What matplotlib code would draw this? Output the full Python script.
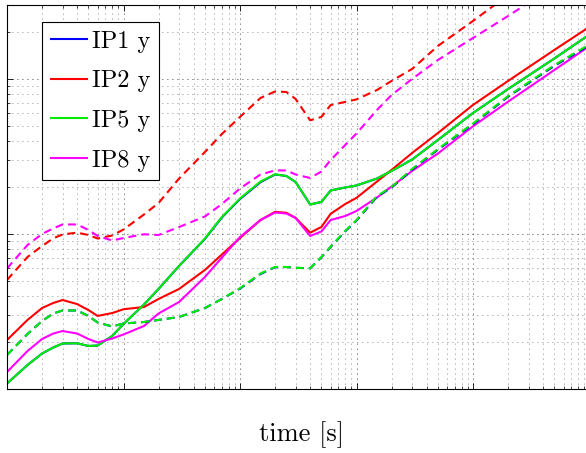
import matplotlib
matplotlib.use('Agg')
import matplotlib.pyplot as plt
from matplotlib.ticker import LogLocator, NullFormatter

# ---- data (log-log axes) ----
t = [1, 1.5, 2, 2.5, 3, 4, 5, 6, 8, 10,
     15, 20, 30, 50, 70, 100,
     150, 200, 250, 300, 400, 500, 600, 800, 1000,
     1500, 2000, 3000, 5000, 10000, 20000, 50000, 100000]

ip1_solid = [1.085, 1.428, 1.694, 1.853, 1.966, 1.972, 1.894, 1.908, 2.198, 2.627,
             3.51, 4.42, 6.22, 9.30, 12.80, 16.80,
             21.6, 24.2, 23.66, 21.65, 15.5, 16.09, 19.08, 19.95, 20.55,
             22.8, 25.5, 30.2, 40.4, 60.3, 86.1, 135.6, 193.6]
ip2_solid = [2.07, 2.79, 3.33, 3.59, 3.75, 3.53, 3.23, 2.96, 3.09, 3.27,
             3.38, 3.81, 4.42, 5.86, 7.38, 9.42,
             12.3, 13.9, 13.7, 12.7, 10.2, 11.1, 13.5, 15.6, 17.1,
             21.8, 25.9, 33.3, 44.8, 68.0, 97.1, 154, 217]
ip5_solid = [1.085, 1.428, 1.694, 1.853, 1.966, 1.972, 1.894, 1.908, 2.198, 2.627,
             3.51, 4.42, 6.22, 9.35, 12.88, 16.94,
             21.8, 24.27, 23.66, 21.65, 15.5, 16.09, 19.08, 19.95, 20.55,
             22.8, 25.5, 30.2, 40.4, 60.3, 86.1, 135.6, 193.6]
ip8_solid = [1.287, 1.758, 2.102, 2.28, 2.366, 2.28, 2.102, 1.995, 2.118, 2.247,
             2.55, 3.07, 3.64, 5.28, 7.05, 9.56,
             12.3, 13.76, 13.56, 12.7, 9.71, 10.38, 12.3, 13.06, 14.07,
             17.2, 20.24, 25.5, 33.05, 49.5, 71.4, 114.3, 163.3]

ip1_dashed = [1.657, 2.264, 2.746, 3.07, 3.21, 3.21, 2.958, 2.685, 2.531, 2.646,
              2.705, 2.79, 2.914, 3.33, 3.81, 4.44,
              5.52, 6.10, 6.124, 6.05, 6.008, 7.08, 8.25, 10.40, 12.2,
              17.4, 19.9, 26.0, 35.0, 51.0, 76.8, 121.5, 165]
ip2_dashed = [5.05, 7.106, 8.366, 9.38, 9.93, 10.2, 9.85, 9.35, 9.78, 10.69,
              13.36, 15.85, 22.8, 33.8, 44.2, 56.9,
              75.4, 83.0, 82.4, 74.3, 54.1, 56.9, 67.9, 71.1, 73.8,
              84.9, 97.1, 116, 163.3, 236.7, 348]
ip5_dashed = [1.657, 2.264, 2.746, 3.07, 3.21, 3.21, 2.958, 2.685, 2.531, 2.646,
              2.705, 2.79, 2.914, 3.33, 3.81, 4.465,
              5.56, 6.124, 6.124, 6.05, 6.008, 7.106, 8.30, 10.46, 12.3,
              17.58, 20.1, 26.27, 35.35, 51.6, 77.6, 123, 167]
ip8_dashed = [5.99, 8.49, 10.0, 10.88, 11.52, 11.52, 10.61, 9.71, 9.08, 9.42,
              9.96, 9.85, 11.09, 12.97, 15.62, 19.66,
              24.2, 25.7, 25.7, 24.2, 22.97, 25.3, 30.0, 37.5, 44.5,
              63.1, 78.8, 100, 132.6, 183.8, 254.8, 398]

labels = ['IP1 y', 'IP2 y', 'IP5 y', 'IP8 y']
colors = ['#0000ff', '#ff0000', '#00ee00', '#ff00ff']
xlabel = 'time [s]'

FONT = 'cmr10'

fig = plt.figure(figsize=(5.86, 4.53), dpi=100)
ax = fig.add_axes([7 / 586, 64 / 453, 582.5 / 586, 384 / 453])
ax.set_xscale('log')
ax.set_yscale('log')

solids = [ip1_solid, ip2_solid, ip5_solid, ip8_solid]
dashes = [ip1_dashed, ip2_dashed, ip5_dashed, ip8_dashed]
handles = []
for ys, c, lab in zip(solids, colors, labels):
    h, = ax.plot(t[:len(ys)], ys, color=c, lw=1.5, label=lab, solid_joinstyle='round')
    handles.append(h)
for ys, c in zip(dashes, colors):
    ax.plot(t[:len(ys)], ys, color=c, lw=1.5, linestyle=(0, (3.8, 2.4)))

ax.set_xlim(1, 1e5)
ax.set_ylim(1, 300)

for axis in (ax.xaxis, ax.yaxis):
    axis.set_major_locator(LogLocator(base=10, numticks=20))
    axis.set_minor_locator(LogLocator(base=10, subs=range(2, 10), numticks=100))
    axis.set_major_formatter(NullFormatter())
    axis.set_minor_formatter(NullFormatter())

ax.tick_params(which='both', direction='in', top=True, right=False,
               labelbottom=False, labelleft=False, color='k')
ax.tick_params(which='major', length=4, width=0.6)
ax.tick_params(which='minor', length=2.4, width=0.5)

ax.grid(True, which='major', color='k', linestyle=(0, (1, 5)), lw=0.6)
ax.grid(True, which='minor', color='#666666', linestyle=(0, (1, 5)), lw=0.6)
ax.set_axisbelow(True)

for s in ['left', 'bottom', 'top']:
    ax.spines[s].set_linewidth(0.8)
    ax.spines[s].set_color('k')
ax.spines['right'].set_visible(False)

ax.set_xlabel(xlabel, fontfamily=FONT, fontsize=19, va='baseline')
ax.xaxis.set_label_coords(0.505, -0.137)

leg = ax.legend(handles=handles, loc='upper left', bbox_to_anchor=(0.0601, 0.9557),
                borderaxespad=0, prop={'family': FONT, 'size': 17.5},
                fancybox=False, framealpha=1, edgecolor='k',
                handlelength=1.5, handletextpad=0.2, labelspacing=0.72, borderpad=0.35)
leg.get_frame().set_linewidth(0.8)

fig.savefig('out.png', dpi=100)
